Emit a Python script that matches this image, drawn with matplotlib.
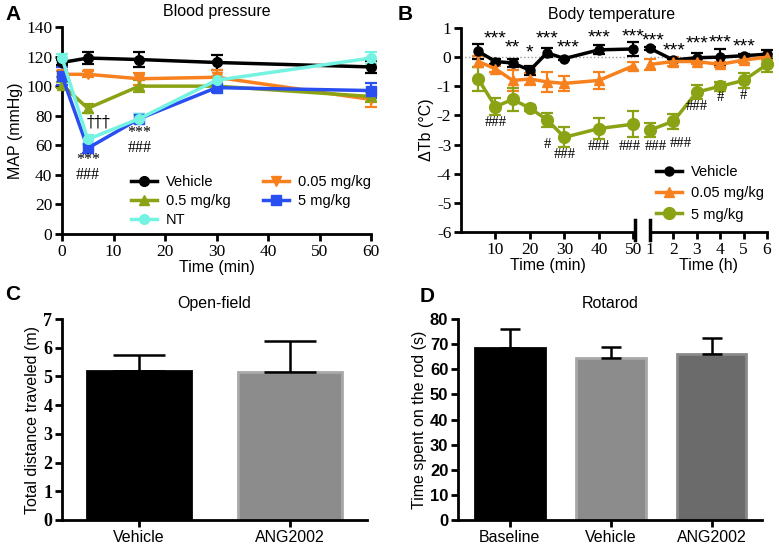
import matplotlib
matplotlib.use("Agg")
import matplotlib.pyplot as plt
from matplotlib.lines import Line2D

plt.rcParams["font.family"] = "Liberation Sans"
plt.rcParams["axes.unicode_minus"] = False

SERIF = "Liberation Serif"

# ---- Panel A: blood pressure ----
bp_time = [0, 5, 15, 30, 60]
bp_vehicle = [116, 119, 118, 116, 113]
bp_vehicle_err = [2, 4, 5, 5, 4]
bp_005 = [108, 108, 105, 106, 91]
bp_005_err = [2, 2, 4, 5, 5]
bp_05 = [101, 85, 100, 100, 93]
bp_05_err = [2, 3, 4, 3, 4]
bp_5 = [107, 58, 78, 99, 97]
bp_5_err = [6, 3, 3, 3, 5]
bp_nt = [119, 64, 78, 104, 119]
bp_nt_err = [3, 3, 3, 3, 4]

# ---- Panel B: body temperature ----
tb_min = [5, 10, 15, 20, 25, 30, 40, 50]
tb_hr = [1, 2, 3, 4, 5, 6]
tb_vehicle_min = [0.2, -0.15, -0.2, -0.45, 0.15, -0.05, 0.25, 0.28]
tb_vehicle_min_err = [0.25, 0.1, 0.15, 0.15, 0.15, 0.05, 0.15, 0.25]
tb_vehicle_hr = [0.3, -0.1, -0.02, 0.0, 0.05, 0.1]
tb_vehicle_hr_err = [0.05, 0.05, 0.15, 0.28, 0.05, 0.15]
tb_005_min = [-0.15, -0.4, -0.8, -0.75, -0.85, -0.9, -0.8, -0.3]
tb_005_min_err = [0.2, 0.1, 0.35, 0.2, 0.35, 0.25, 0.3, 0.15]
tb_005_hr = [-0.25, -0.15, -0.15, -0.25, -0.1, 0.0]
tb_005_hr_err = [0.2, 0.15, 0.1, 0.1, 0.1, 0.1]
tb_5_min = [-0.75, -1.7, -1.45, -1.75, -2.15, -2.75, -2.45, -2.3]
tb_5_min_err = [0.4, 0.3, 0.4, 0.1, 0.25, 0.35, 0.35, 0.45]
tb_5_hr = [-2.5, -2.2, -1.2, -1.0, -0.8, -0.25]
tb_5_hr_err = [0.25, 0.25, 0.25, 0.15, 0.25, 0.25]

# significance labels (x, y, text)
bp_marks = [(5, 45, "***\n###"), (15, 63.5, "***\n###")]
tb_min_marks = [(10, 0.62, "***"), (15, 0.3, "**"), (20, 0.15, "*"), (25, 0.62, "***"),
                (31, 0.3, "***"), (40, 0.65, "***"), (50, 0.7, "***"),
                (10, -2.25, "###"), (25, -3.0, "#"), (30, -3.35, "###"),
                (40, -3.05, "###"), (49, -3.05, "###")]
tb_hr_marks = [(1.15, 0.55, "***"), (2.05, 0.2, "***"), (3, 0.45, "***"), (4, 0.5, "***"),
               (5, 0.35, "***"), (1.25, -3.05, "###"), (2.3, -2.95, "###"),
               (3, -1.7, "###"), (4, -1.4, "#"), (5, -1.3, "#")]

# ---- Panel C: open field ----
of_groups = ["Vehicle", "ANG2002"]
of_values = [5.2, 5.15]
of_err = [0.55, 1.1]

# ---- Panel D: rotarod ----
rr_groups = ["Baseline", "Vehicle", "ANG2002"]
rr_values = [68.5, 64.5, 66.0]
rr_err = [7.5, 4.3, 6.5]

BLACK = "#000000"
ORANGE = "#f7811e"
OLIVE = "#8aa314"
BLUE = "#2a4ff0"
CYAN = "#74f2e2"

W, H = 779, 557
fig = plt.figure(figsize=(W / 100, H / 100), dpi=100)


def add_axes(left, right, top, bottom):
  return fig.add_axes([left / W, 1 - bottom / H, (right - left) / W, (bottom - top) / H])


def style_axes(ax, tick_font=SERIF, weight="normal", size=12.5):
  for side in ["top", "right"]:
    ax.spines[side].set_visible(False)
  for side in ["left", "bottom"]:
    ax.spines[side].set_linewidth(2)
  ax.tick_params(width=2, length=5, labelsize=size, pad=2)
  for lab in ax.get_xticklabels() + ax.get_yticklabels():
    lab.set_fontfamily(tick_font)
    lab.set_fontweight(weight)


def series(ax, x, y, err, color, marker, ms=7):
  ax.errorbar(x, y, yerr=err, color=color, marker=marker, markersize=ms, linewidth=2.5,
              elinewidth=1.6, capsize=4, capthick=1.6, clip_on=False, zorder=3)


def handle(color, marker, label, ms=7):
  return Line2D([], [], color=color, marker=marker, markersize=ms, linewidth=2.5, label=label)


def mark(ax, x, y, t):
  if "*" in t:
    ax.text(x, y, t, ha="center", va="center", fontsize=14, fontfamily="Liberation Sans", zorder=5)
  else:
    ax.text(x, y, t, ha="center", va="center", fontsize=10.5, fontfamily=SERIF, zorder=5)


# ================= A =================
axA = add_axes(62, 371, 27, 234)
series(axA, bp_time, bp_vehicle, bp_vehicle_err, BLACK, "o")
series(axA, bp_time, bp_005, bp_005_err, ORANGE, "v")
series(axA, bp_time, bp_05, bp_05_err, OLIVE, "^")
series(axA, bp_time, bp_5, bp_5_err, BLUE, "s")
series(axA, bp_time, bp_nt, bp_nt_err, CYAN, "o")
axA.set_xlim(0, 60)
axA.set_ylim(0, 140)
axA.set_xticks(range(0, 61, 10))
axA.set_yticks(range(0, 141, 20))
style_axes(axA)
axA.set_xlabel("Time (min)", fontsize=11.5, labelpad=0)
axA.set_ylabel("MAP (mmHg)", fontsize=11.5, labelpad=2)
axA.set_title("Blood pressure", fontsize=11.5, pad=8)
handles_a = [handle(BLACK, "o", "Vehicle"), handle(OLIVE, "^", "0.5 mg/kg"),
             handle(CYAN, "o", "NT"), handle(ORANGE, "v", "0.05 mg/kg"),
             handle(BLUE, "s", "5 mg/kg")]
fig.legend(handles=handles_a, ncol=2, loc="upper left", bbox_to_anchor=(131 / W, 1 - 175 / H),
           frameon=False, fontsize=10.5, handlelength=1.8, columnspacing=2.2,
           labelspacing=0.35, handletextpad=0.6, borderaxespad=0, borderpad=0)
for x, y, t in bp_marks:
  axA.text(x, y, t, ha="center", va="center", fontsize=11.5, fontfamily=SERIF,
           linespacing=0.9, zorder=5)
axA.text(7.2, 76, "\u2020\u2020\u2020", ha="center", va="center", fontsize=11.5, fontfamily="DejaVu Serif")

# ================= B =================
axB1 = add_axes(461, 635, 28, 232)
axB2 = add_axes(650, 767, 28, 232)
for ax in (axB1, axB2):
  ax.axhline(0, color="#999999", linestyle=":", linewidth=1, zorder=1)
  ax.set_ylim(-6, 1)

series(axB1, tb_min, tb_vehicle_min, tb_vehicle_min_err, BLACK, "o", ms=6.5)
series(axB1, tb_min, tb_005_min, tb_005_min_err, ORANGE, "^", ms=6.5)
series(axB1, tb_min, tb_5_min, tb_5_min_err, OLIVE, "o", ms=8.5)
series(axB2, tb_hr, tb_vehicle_hr, tb_vehicle_hr_err, BLACK, "o", ms=6.5)
series(axB2, tb_hr, tb_005_hr, tb_005_hr_err, ORANGE, "^", ms=6.5)
series(axB2, tb_hr, tb_5_hr, tb_5_hr_err, OLIVE, "o", ms=8.5)

axB1.set_xlim(0, 50.5)
axB1.set_xticks([10, 20, 30, 40, 50])
axB1.set_yticks(range(-6, 2))
axB2.set_xlim(1, 6)
axB2.set_xticks(range(1, 7))
axB2.set_yticks([])
style_axes(axB1)
style_axes(axB2)
axB2.spines["left"].set_visible(False)
# break marks
axB1.plot([1, 1], [-0.04, 0.06], transform=axB1.transAxes, color="black", lw=2.5, clip_on=False)
axB2.plot([0, 0], [-0.04, 0.06], transform=axB2.transAxes, color="black", lw=2.5, clip_on=False)

for x, y, t in tb_min_marks:
  mark(axB1, x, y, t)
for x, y, t in tb_hr_marks:
  mark(axB2, x, y, t)

axB1.set_xlabel("Time (min)", fontsize=11.5, labelpad=0)
axB2.set_xlabel("Time (h)", fontsize=11.5, labelpad=0)
axB1.set_ylabel("\u0394Tb (\u00b0C)", fontsize=11.5, labelpad=2)
fig.text(612 / W, 1 - 15 / H, "Body temperature", ha="center", va="center", fontsize=11.5)
handles_b = [handle(BLACK, "o", "Vehicle", 6.5), handle(ORANGE, "^", "0.05 mg/kg", 6.5),
             handle(OLIVE, "o", "5 mg/kg", 8.5)]
fig.legend(handles=handles_b, loc="upper left", bbox_to_anchor=(656 / W, 1 - 165 / H),
           frameon=False, fontsize=10.5, handlelength=1.8, labelspacing=0.5,
           handletextpad=0.6, borderaxespad=0, borderpad=0)

# ================= C =================
axC = add_axes(62, 367, 319, 520)
xc = range(len(of_groups))
axC.bar(xc, of_values, width=0.69, color=["#000000", "#8c8c8c"],
        edgecolor=["#000000", "#a8a8a8"], linewidth=2, zorder=2)
axC.errorbar(xc, of_values, yerr=[[0] * len(of_err), of_err], fmt="none", ecolor="black",
             elinewidth=1.8, capsize=19, capthick=1.8, zorder=3)
axC.set_xlim(-0.51, 1.51)
axC.set_ylim(0, 7)
axC.set_xticks(list(xc))
axC.set_xticklabels(of_groups)
axC.set_yticks(range(0, 8))
style_axes(axC, weight="bold", size=13)
for lab in axC.get_xticklabels():
  lab.set_fontfamily("Liberation Sans")
  lab.set_fontweight("normal")
  lab.set_fontsize(11.5)
axC.set_ylabel("Total distance traveled (m)", fontsize=11.5, labelpad=2)
axC.set_title("Open-field", fontsize=11.5, pad=8)

# ================= D =================
axD = add_axes(458, 762, 319, 520)
xd = range(len(rr_groups))
axD.bar(xd, rr_values, width=0.69, color=["#000000", "#8c8c8c", "#6b6b6b"],
        edgecolor=["#000000", "#a8a8a8", "#8a8a8a"], linewidth=2, zorder=2)
axD.errorbar(xd, rr_values, yerr=[[0] * len(rr_err), rr_err], fmt="none", ecolor="black",
             elinewidth=1.8, capsize=7.5, capthick=1.8, zorder=3)
axD.set_xlim(-0.515, 2.5)
axD.set_ylim(0, 80)
axD.set_xticks(list(xd))
axD.set_xticklabels(rr_groups)
axD.set_yticks(range(0, 81, 10))
style_axes(axD, tick_font="Liberation Sans", weight="bold", size=12)
for lab in axD.get_xticklabels():
  lab.set_fontweight("normal")
  lab.set_fontsize(11.5)
axD.set_ylabel("Time spent on the rod (s)", fontsize=11.5, labelpad=2)
axD.set_title("Rotarod", fontsize=11.5, pad=8)

# panel letters
for x, y, t in [(5, 14, "A"), (398, 14, "B"), (5, 294, "C"), (420, 296, "D")]:
  fig.text(x / W, 1 - y / H, t, fontsize=15, fontweight="bold", ha="left", va="center")

fig.savefig("out.png", dpi=100)
